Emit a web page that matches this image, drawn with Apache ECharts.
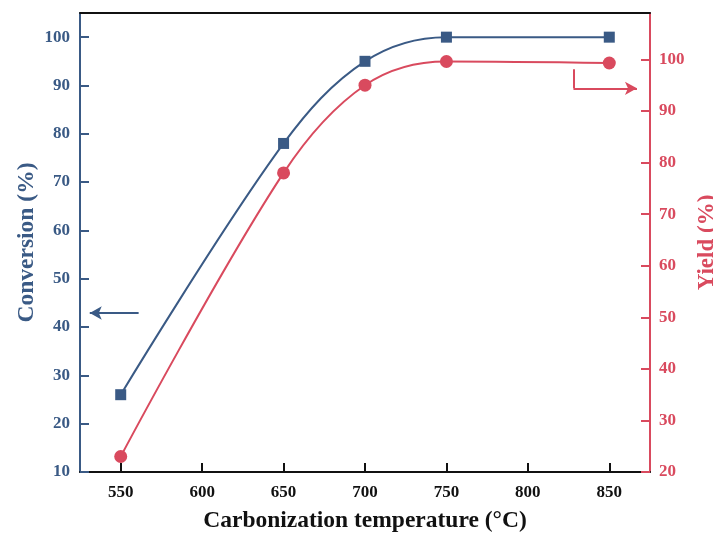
<!DOCTYPE html>
<html>
<head>
<meta charset="utf-8">
<script src="https://cdn.jsdelivr.net/npm/echarts@6/dist/echarts.min.js"></script>
<style>
  html, body { margin: 0; padding: 0; background: #ffffff; }
  #chart { width: 713px; height: 541px; }
</style>
</head>
<body>
<div id="chart"></div>
<script>
const temperatures = [550, 650, 700, 750, 850];
const conversion = [26, 78, 95, 100, 100];
const yieldValues = [23, 78, 95, 99.6, 99.3];
const xTicks = [550, 600, 650, 700, 750, 800, 850];

const blue = "#3a5a85";
const red = "#d94a5e";
const font = "Liberation Serif";

const chart = echarts.init(document.getElementById("chart"));

chart.setOption({
  backgroundColor: "#ffffff",
  animation: false,
  grid: { left: 80, right: 63, top: 13, bottom: 69, outerBoundsMode: "none", containLabel: false },
  xAxis: [
    {
      type: "value",
      min: 525,
      max: 875,
      name: "Carbonization temperature (\u00b0C)",
      nameLocation: "middle",
      nameGap: 37,
      nameTextStyle: { fontFamily: font, fontWeight: "bold", fontSize: 23.5, color: "#111" },
      axisLine: { lineStyle: { color: "#111", width: 2 } },
      axisTick: { inside: true, length: 9, customValues: xTicks, lineStyle: { color: "#111", width: 2 } },
      axisLabel: {
        fontFamily: font, fontWeight: "bold", fontSize: 17, color: "#111", margin: 12,
        customValues: xTicks
      },
      splitLine: { show: false }
    },
    {
      type: "value",
      position: "top",
      min: 525,
      max: 875,
      axisLine: { show: true, lineStyle: { color: "#111", width: 2 } },
      axisTick: { show: false },
      axisLabel: { show: false },
      splitLine: { show: false }
    }
  ],
  yAxis: [
    {
      type: "value",
      min: 10,
      max: 105,
      interval: 10,
      name: "Conversion (%)",
      nameLocation: "middle",
      nameRotate: 90,
      nameGap: 41,
      nameMoveOverlap: false,
      nameTextStyle: { fontFamily: font, fontWeight: "bold", fontSize: 23.5, color: blue },
      axisLine: { show: true, lineStyle: { color: blue, width: 2 } },
      axisTick: { inside: true, length: 9, lineStyle: { color: blue, width: 2 } },
      axisLabel: {
        fontFamily: font, fontWeight: "bold", fontSize: 17, color: blue, margin: 10,
        showMaxLabel: false,
        formatter: v => (v <= 100 ? v : "")
      },
      splitLine: { show: false }
    },
    {
      type: "value",
      position: "right",
      min: 20,
      max: 109,
      interval: 10,
      name: "Yield (%)",
      nameLocation: "middle",
      nameRotate: 90,
      nameGap: 45,
      nameTextStyle: { fontFamily: font, fontWeight: "bold", fontSize: 23, color: red },
      axisLine: { show: true, lineStyle: { color: red, width: 2 } },
      axisTick: { inside: true, length: 9, lineStyle: { color: red, width: 2 } },
      axisLabel: {
        fontFamily: font, fontWeight: "bold", fontSize: 17, color: red, margin: 9,
        showMaxLabel: false,
        formatter: v => (v <= 100 ? v : "")
      },
      splitLine: { show: false }
    }
  ],
  series: [
    {
      name: "Conversion",
      type: "line",
      yAxisIndex: 0,
      smooth: 0.35,
      symbol: "rect",
      symbolSize: 11,
      data: temperatures.map((t, i) => [t, conversion[i]]),
      lineStyle: { color: blue, width: 2 },
      itemStyle: { color: blue },
      markLine: {
        silent: true,
        symbol: ["none", "arrow"],
        symbolSize: [10, 12],
        label: { show: false },
        lineStyle: { color: blue, width: 2, type: "solid" },
        data: [[{ coord: [561, 42.9] }, { coord: [531, 42.9] }]]
      }
    },
    {
      name: "Yield",
      type: "line",
      yAxisIndex: 1,
      smooth: 0.35,
      symbol: "circle",
      symbolSize: 13,
      data: temperatures.map((t, i) => [t, yieldValues[i]]),
      lineStyle: { color: red, width: 2 },
      itemStyle: { color: red },
      markLine: {
        silent: true,
        symbol: ["none", "arrow"],
        symbolSize: [10, 12],
        label: { show: false },
        lineStyle: { color: red, width: 2, type: "solid" },
        data: [
          [{ coord: [828, 98.1], symbol: "none" }, { coord: [828, 94.4], symbol: "none" }],
          [{ coord: [828, 94.4] }, { coord: [867, 94.4] }]
        ]
      }
    }
  ]
});
</script>
</body>
</html>
